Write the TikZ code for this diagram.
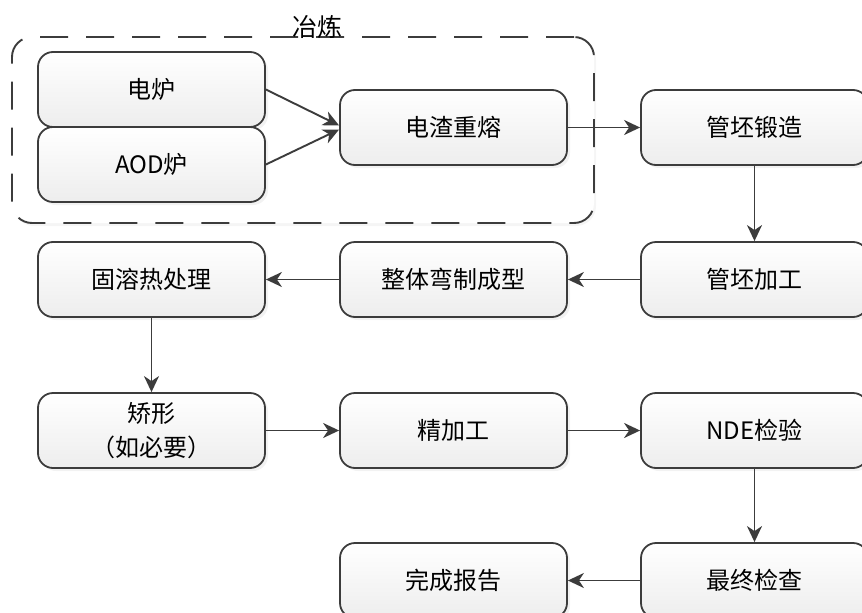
\documentclass[tikz,border=0pt]{standalone}
\usepackage{fontspec}
\setmainfont{Noto Sans CJK SC}
\usetikzlibrary{arrows.meta,shadows,calc}
\definecolor{lc}{HTML}{3C3C3C}
\tikzset{
 box/.style={draw=lc, line width=1.8pt, rounded corners=15pt, minimum width=227pt, minimum height=75pt,
   top color=white, bottom color=black!7,
   drop shadow={shadow xshift=3pt, shadow yshift=-3pt, opacity=0.10},
   font=\fontsize{24}{34}\selectfont, align=center, inner sep=0pt},
 arr/.style={draw=lc, line width=1.9pt, -{Stealth[length=16pt,width=15pt,inset=5pt]}},
 group/.style={draw=lc, line width=1.9pt, dash pattern=on 28pt off 18pt, rounded corners=20pt,
   minimum width=582pt, minimum height=186pt, inner sep=0pt, fill=white},
 grouplabel/.style={font=\fontsize{25}{30}\selectfont, inner sep=0pt},
}
\begin{document}
\begin{tikzpicture}[x=1pt,y=-1pt]
\useasboundingbox (0,0) rectangle (862,613);
\clip (0,0) rectangle (862,613);
\node[group, drop shadow={shadow xshift=2pt, shadow yshift=-3pt, opacity=0.08}] (grp) at (303,130) {};
\node[grouplabel] (glab) at (317,27) {冶炼};
\node[box] (e1) at (151.5,89.5) {电炉};
\node[box] (a1) at (151.5,164.5) {AOD炉};
\node[box] (z) at (453.5,127.5) {电渣重熔};
\node[box] (f1) at (754.5,127.5) {管坯锻造};
\node[box] (g) at (151.5,279.5) {固溶热处理};
\node[box] (w) at (453.5,279.5) {整体弯制成型};
\node[box] (p) at (754.5,279.5) {管坯加工};
\node[box] (j) at (151.5,430.5) {矫形\\（如必要）};
\node[box] (fin) at (453.5,430.5) {精加工};
\node[box] (nde) at (754.5,430.5) {NDE检验};
\node[box] (rep) at (453.5,580.5) {完成报告};
\node[box] (fc) at (754.5,580.5) {最终检查};
\draw[arr] (e1.east) -- ($(z.west)+(0,-2)$);
\draw[arr] (a1.east) -- ($(z.west)+(0,2)$);
\draw[arr] (z.east) -- (f1.west);
\draw[arr] (f1.south) -- (p.north);
\draw[arr] (p.west) -- (w.east);
\draw[arr] (w.west) -- (g.east);
\draw[arr] (g.south) -- (j.north);
\draw[arr] (j.east) -- (fin.west);
\draw[arr] (fin.east) -- (nde.west);
\draw[arr] (nde.south) -- (fc.north);
\draw[arr] (fc.west) -- (rep.east);
\end{tikzpicture}
\end{document}
